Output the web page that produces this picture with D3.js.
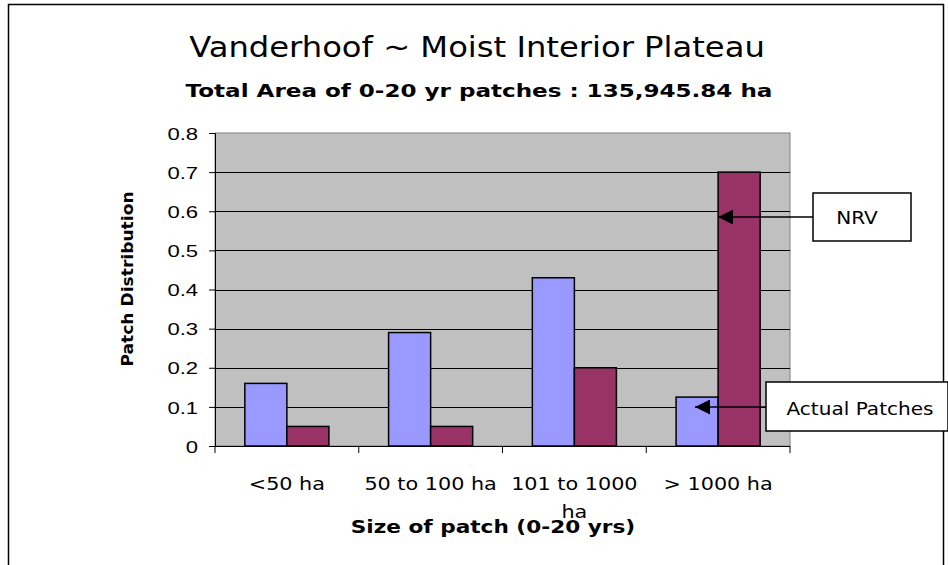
<!DOCTYPE html>
<html>
<head>
<meta charset="utf-8">
<script src="https://cdn.jsdelivr.net/npm/d3@7"></script>
<style>
  body { margin: 0; background: #fff; }
  svg text { fill: #000; }
  .comic { font-family: "Comic Sans MS", "DejaVu Sans", sans-serif; }
</style>
</head>
<body>
<div id="chart"></div>
<script>
// chart values
var categories = ["<50 ha", "50 to 100 ha", "101 to 1000 ha", "> 1000 ha"];
var nrvValues = [0.16, 0.29, 0.43, 0.125];      // blue bars
var actualValues = [0.05, 0.05, 0.2, 0.7];      // maroon bars
var yTicks = [0, 0.1, 0.2, 0.3, 0.4, 0.5, 0.6, 0.7, 0.8];

var titleText = "Vanderhoof  ~ Moist Interior Plateau";
var subtitleText = "Total Area of 0-20 yr patches : 135,945.84 ha";
var xTitle = "Size of patch (0-20 yrs)";
var yTitle = "Patch Distribution";

var width = 948, height = 565;
var plot = {left: 215, top: 133, right: 790, bottom: 446};

// no comic font here, so the fallback gets widened to the original's width
function stretch(sel, f) {
    sel.each(function () {
        var w = this.getComputedTextLength();
        d3.select(this)
            .attr("textLength", w * f)
            .attr("lengthAdjust", "spacingAndGlyphs");
    });
}

var svg = d3.select("#chart")
    .append("svg")
    .attr("width", width)
    .attr("height", height);

// outer chart frame (bottom runs off the page)
svg.append("rect")
    .attr("x", 8.5).attr("y", 4.5)
    .attr("width", 935).attr("height", 600)
    .attr("fill", "#fff")
    .attr("stroke", "#000")
    .attr("stroke-width", 1.5);

var x = d3.scaleBand()
    .domain(categories)
    .range([plot.left, plot.right]);
var inner = d3.scaleBand()
    .domain(["nrv", "actual"])
    .range([0, x.bandwidth()])
    .paddingOuter(0.71);
var y = d3.scaleLinear()
    .domain([0, 0.8])
    .range([plot.bottom, plot.top]);

// plot background
svg.append("rect")
    .attr("x", plot.left).attr("y", plot.top)
    .attr("width", plot.right - plot.left)
    .attr("height", plot.bottom - plot.top)
    .attr("fill", "#c0c0c0")
    .attr("stroke", "#808080")
    .attr("stroke-width", 1);

// gridlines
svg.append("g")
    .selectAll("line")
    .data(yTicks.filter(function (d) { return d > 0 && d < 0.8; }))
    .enter()
    .append("line")
    .attr("x1", plot.left).attr("x2", plot.right)
    .attr("y1", function (d) { return Math.round(y(d)) + 0.5; })
    .attr("y2", function (d) { return Math.round(y(d)) + 0.5; })
    .attr("stroke", "#000")
    .attr("stroke-width", 1);

// bars
var groups = svg.append("g")
    .selectAll("g")
    .data(categories)
    .enter()
    .append("g")
    .attr("transform", function (d) { return "translate(" + x(d) + ",0)"; });

groups.append("rect")
    .attr("x", inner("nrv"))
    .attr("y", function (d, i) { return y(nrvValues[i]); })
    .attr("width", inner.bandwidth())
    .attr("height", function (d, i) { return y(0) - y(nrvValues[i]); })
    .attr("fill", "#9999ff")
    .attr("stroke", "#000")
    .attr("stroke-width", 1.5);

groups.append("rect")
    .attr("x", inner("actual"))
    .attr("y", function (d, i) { return y(actualValues[i]); })
    .attr("width", inner.bandwidth())
    .attr("height", function (d, i) { return y(0) - y(actualValues[i]); })
    .attr("fill", "#993366")
    .attr("stroke", "#000")
    .attr("stroke-width", 1.5);

// y axis
var yAxis = svg.append("g")
    .attr("transform", "translate(" + plot.left + ",0)")
    .call(d3.axisLeft(y).tickValues(yTicks).tickSize(6).tickPadding(7)
        .tickFormat(function (d) { return d === 0 ? "0" : d3.format(".1f")(d); }));
yAxis.select(".domain").attr("stroke", "#000");
// labels are drawn wide in the original, so scale them sideways
yAxis.selectAll("text")
    .attr("dy", "0.36em")
    .attr("transform", "scale(1.3,1)")
    .style("font-size", "17px")
    .style("font-family", "Arial, 'Liberation Sans', sans-serif");

// x axis line with ticks at band edges
svg.append("line")
    .attr("x1", plot.left).attr("x2", plot.right)
    .attr("y1", plot.bottom + 0.5).attr("y2", plot.bottom + 0.5)
    .attr("stroke", "#000");
svg.append("g")
    .selectAll("line")
    .data(categories.concat(["end"]))
    .enter()
    .append("line")
    .attr("x1", function (d) { return d === "end" ? plot.right : x(d); })
    .attr("x2", function (d) { return d === "end" ? plot.right : x(d); })
    .attr("y1", plot.bottom).attr("y2", plot.bottom + 7)
    .attr("stroke", "#000");

// x category labels (third one wraps like the original)
var labelLines = categories.map(function (c) {
    return c === "101 to 1000 ha" ? ["101 to 1000", "ha"] : [c];
});
var xl = svg.append("g")
    .selectAll("text")
    .data(categories)
    .enter()
    .append("text")
    .attr("class", "comic")
    .attr("text-anchor", "middle")
    .style("font-size", "17px")
    .attr("y", 490);
xl.selectAll("tspan")
    .data(function (d, i) {
        var cx = x(d) + x.bandwidth() / 2;
        return labelLines[i].map(function (t) { return {t: t, cx: cx}; });
    })
    .enter()
    .append("tspan")
    .attr("x", function (d) { return d.cx; })
    .attr("dy", function (d, i) { return i === 0 ? 0 : 28; })
    .text(function (d) { return d.t; })
    .call(stretch, 1.22);

// titles
svg.append("text")
    .attr("class", "comic")
    .attr("x", 477).attr("y", 57)
    .attr("text-anchor", "middle")
    .style("font-size", "28px")
    .text(titleText)
    .call(stretch, 1.15);

svg.append("text")
    .attr("class", "comic")
    .attr("x", 479).attr("y", 97)
    .attr("text-anchor", "middle")
    .style("font-size", "18px")
    .style("font-weight", "bold")
    .text(subtitleText)
    .call(stretch, 1.28);

svg.append("text")
    .attr("class", "comic")
    .attr("x", 493).attr("y", 533)
    .attr("text-anchor", "middle")
    .style("font-size", "18px")
    .style("font-weight", "bold")
    .text(xTitle)
    .call(stretch, 1.2);

svg.append("text")
    .attr("class", "comic")
    .attr("transform", "translate(133,279) rotate(-90)")
    .attr("text-anchor", "middle")
    .style("font-size", "15px")
    .style("font-weight", "bold")
    .text(yTitle)
    .call(stretch, 1.14);

// callouts with arrows
svg.append("defs").append("marker")
    .attr("id", "head")
    .attr("viewBox", "0 0 15 15")
    .attr("refX", 15).attr("refY", 7.5)
    .attr("markerWidth", 15).attr("markerHeight", 15)
    .attr("markerUnits", "userSpaceOnUse")
    .attr("orient", "auto")
    .append("path")
    .attr("d", "M0,0L15,7.5L0,15Z")
    .attr("fill", "#000");

var callouts = [
    {label: "NRV", box: [813, 193, 98, 48], from: [813, 217], to: [x("> 1000 ha") + inner("actual"), 217], text: [857, 224]},
    {label: "Actual Patches", box: [766, 382, 182, 49], from: [766, 407], to: [695, 407], text: [860, 415]}
];
callouts.forEach(function (c) {
    svg.append("line")
        .attr("x1", c.from[0]).attr("y1", c.from[1])
        .attr("x2", c.to[0]).attr("y2", c.to[1])
        .attr("stroke", "#000")
        .attr("stroke-width", 1.5)
        .attr("marker-end", "url(#head)");
    svg.append("rect")
        .attr("x", c.box[0]).attr("y", c.box[1])
        .attr("width", c.box[2]).attr("height", c.box[3])
        .attr("fill", "#fff")
        .attr("stroke", "#000")
        .attr("stroke-width", 1.5);
    svg.append("text")
        .attr("class", "comic")
        .attr("x", c.text[0]).attr("y", c.text[1])
        .attr("text-anchor", "middle")
        .style("font-size", "17px")
        .text(c.label)
        .call(stretch, 1.18);
});
</script>
</body>
</html>
